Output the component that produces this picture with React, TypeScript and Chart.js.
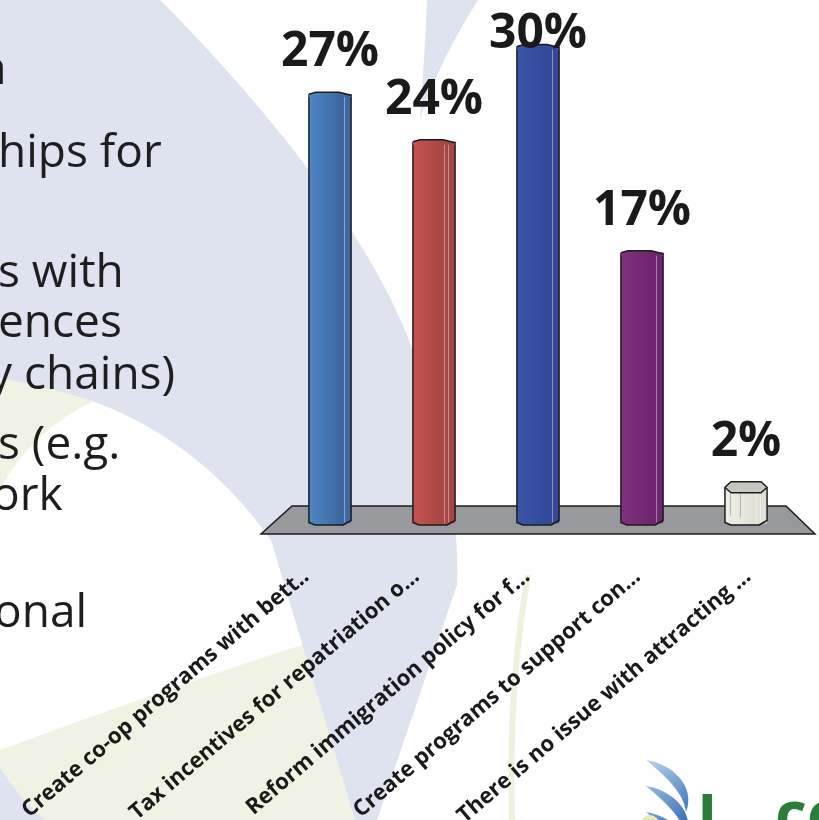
import { useEffect, useRef } from "react";
import { Chart, registerables } from "chart.js";

Chart.register(...registerables);

const categories = [
  "Create co-op programs with bett..",
  "Tax incentives for repatriation o...",
  "Reform immigration policy for f...",
  "Create programs to support con...",
  "There is no issue with attracting ...",
];
const values = [27, 24, 30, 17, 2];
const valueLabels = ["27%", "24%", "30%", "17%", "2%"];
const yMax = 33;
// label axis range: the labels sit along the front edge of the (perspective) floor
const labelAxisMin = -0.253;
const labelAxisMax = 4.453;

const barLight = ["#4f87c8", "#c5534f", "#3c56a8", "#82307f", "#f0f0e8"];
const barDark = ["#3d69a3", "#a64644", "#33489a", "#6d2570", "#e0e0d4"];
const capFill = ["#4a7fc0", "#c0504d", "#3a53a5", "#7b2b7c", "#c6c6be"];

const INK = "#1c1c1c";

const background = {
  id: "background",
  beforeDraw(chart: any) {
    const ctx = chart.ctx as CanvasRenderingContext2D;
    ctx.save();
    ctx.fillStyle = "#ffffff";
    ctx.fillRect(0, 0, chart.width, chart.height);

    // green-yellow swooshes
    ctx.fillStyle = "#f0f3e3";
    ctx.beginPath();
    ctx.moveTo(0, 750);
    ctx.quadraticCurveTo(190, 680, 318, 640);
    ctx.lineTo(340, 560);
    ctx.lineTo(360, 820);
    ctx.lineTo(0, 820);
    ctx.closePath();
    ctx.fill();
    ctx.beginPath();
    ctx.moveTo(0, 372);
    ctx.quadraticCurveTo(70, 380, 100, 398);
    ctx.quadraticCurveTo(30, 430, 0, 490);
    ctx.closePath();
    ctx.fill();
    ctx.strokeStyle = "#eef2dc";
    ctx.lineWidth = 6;
    ctx.beginPath();
    ctx.moveTo(528, 575);
    ctx.quadraticCurveTo(508, 690, 512, 820);
    ctx.stroke();

    // lavender swooshes
    ctx.fillStyle = "#dfe3f0";
    ctx.beginPath();
    ctx.moveTo(0, 0);
    ctx.lineTo(160, 0);
    ctx.bezierCurveTo(250, 90, 360, 220, 405, 330);
    ctx.bezierCurveTo(445, 430, 460, 520, 457, 585);
    ctx.lineTo(377, 820);
    ctx.lineTo(355, 820);
    ctx.lineTo(271, 540);
    ctx.quadraticCurveTo(200, 440, 90, 400);
    ctx.quadraticCurveTo(40, 385, 0, 378);
    ctx.closePath();
    ctx.fill();
    ctx.beginPath();
    ctx.moveTo(427, 0);
    ctx.lineTo(478, 0);
    ctx.quadraticCurveTo(440, 60, 420, 118);
    ctx.quadraticCurveTo(425, 50, 427, 0);
    ctx.closePath();
    ctx.fill();
    ctx.beginPath();
    ctx.moveTo(0, 768);
    ctx.quadraticCurveTo(20, 800, 45, 820);
    ctx.lineTo(0, 820);
    ctx.closePath();
    ctx.fill();

    // slide body text (cropped)
    ctx.fillStyle = "#1e1e1e";
    ctx.font = '46px "Open Sans"';
    ctx.textAlign = "left";
    ctx.textBaseline = "alphabetic";
    const lines: [string, number, number][] = [
      ["a", -19, 84],
      ["hips for", -2, 167],
      ["s with", -2, 287],
      ["ences", -2, 337],
      ["y chains)", -11, 389],
      ["s (e.g.", -2, 459],
      ["ork", -8, 510],
      ["onal", -6, 627],
    ];
    lines.forEach(([t, x, y]) => ctx.fillText(t, x, y));

    // logo (cropped)
    const g = ctx.createLinearGradient(640, 760, 700, 820);
    g.addColorStop(0, "#c2dbf2");
    g.addColorStop(1, "#2a66b0");
    ctx.fillStyle = g;
    [0, 26, 52].forEach((dy) => {
      ctx.beginPath();
      ctx.moveTo(646, 760 + dy);
      ctx.bezierCurveTo(672, 764 + dy, 696, 786 + dy, 686, 812 + dy);
      ctx.bezierCurveTo(684, 794 + dy, 668, 778 + dy, 646, 760 + dy);
      ctx.closePath();
      ctx.fill();
    });
    ctx.fillStyle = "#e8ecb0";
    ctx.beginPath();
    ctx.arc(650, 824, 9, 0, Math.PI * 2);
    ctx.fill();
    ctx.fillStyle = "#2b7d3a";
    ctx.font = 'bold 62px "Open Sans"';
    ctx.fillText("L", 697, 839);
    ctx.fillText("co", 775, 836);
    ctx.restore();
  },
};

const floor = {
  id: "floor",
  beforeDatasetsDraw(chart: any) {
    const ctx = chart.ctx as CanvasRenderingContext2D;
    const ca = chart.chartArea;
    const y0 = chart.scales.y.getPixelForValue(0);
    ctx.save();
    ctx.fillStyle = "#98999d";
    ctx.strokeStyle = INK;
    ctx.lineWidth = 1.5;
    ctx.beginPath();
    ctx.moveTo(ca.left + 14, y0 - 17.5);
    ctx.lineTo(ca.right - 12, y0 - 17.5);
    ctx.lineTo(ca.right + 17, y0 + 10.5);
    ctx.lineTo(ca.left - 17, y0 + 10.5);
    ctx.closePath();
    ctx.fill();
    ctx.stroke();
    ctx.restore();
  },
};

const barDecor = {
  id: "barDecor",
  afterDatasetsDraw(chart: any) {
    const ctx = chart.ctx as CanvasRenderingContext2D;
    const meta = chart.getDatasetMeta(0);
    meta.data.forEach((el: any, i: number) => {
      const { x, y, base, width } = el.getProps(["x", "y", "base", "width"], true);
      const l = x - width / 2;
      const r = x + width / 2;
      const capH = Math.max(4, Math.min(11, (y - 300) / 17));
      const big = capH > 6;
      ctx.save();
      const g = ctx.createLinearGradient(l, 0, r, 0);
      g.addColorStop(0, barLight[i]);
      g.addColorStop(0.72, barDark[i]);
      g.addColorStop(1, barDark[i]);
      ctx.fillStyle = g;
      ctx.beginPath();
      ctx.moveTo(l, y - capH / 2 + 1);
      ctx.lineTo(r, y - capH / 2 + 1);
      ctx.lineTo(r, base - 3);
      ctx.lineTo(r - 8, base + 1.5);
      ctx.lineTo(l + 6, base + 1.5);
      ctx.lineTo(l, base - 1);
      ctx.closePath();
      ctx.fill();
      ctx.lineWidth = 1;
      ctx.strokeStyle = "rgba(255,255,255,0.4)";
      ctx.beginPath();
      ctx.moveTo(r - 6.5, y);
      ctx.lineTo(r - 6.5, base - 1);
      if (i === 1 || i === 4) {
        ctx.moveTo(r - 10.5, y);
        ctx.lineTo(r - 10.5, base);
      }
      ctx.stroke();
      if (i === 4) {
        ctx.strokeStyle = "rgba(120,120,110,0.5)";
        ctx.beginPath();
        ctx.moveTo(l + 15.5, y + 2);
        ctx.lineTo(l + 15.5, base - 6);
        ctx.moveTo(l + 5.5, y + 2);
        ctx.lineTo(l + 5.5, base - 8);
        ctx.stroke();
      }
      ctx.strokeStyle = INK;
      ctx.lineWidth = 1.5;
      ctx.lineJoin = "round";
      ctx.beginPath();
      ctx.moveTo(l, y - capH / 2 + 1);
      ctx.lineTo(l, base - 1);
      ctx.lineTo(l + 6, base + 1.5);
      ctx.lineTo(r - 8, base + 1.5);
      ctx.lineTo(r, base - 3);
      ctx.lineTo(r, y - capH / 2 + 1);
      ctx.stroke();
      const top = y - capH + 1;
      const mid = y - capH / 2 + 1;
      const front = y + 1;
      ctx.beginPath();
      if (big) {
        ctx.moveTo(l, mid);
        ctx.lineTo(l + 6, top);
        ctx.lineTo(r - 6, top);
        ctx.lineTo(r, mid);
        ctx.lineTo(r - 6, front);
        ctx.lineTo(l + 6, front);
        ctx.closePath();
        ctx.fillStyle = capFill[i];
        ctx.fill();
        ctx.stroke();
      } else {
        ctx.moveTo(l, mid);
        ctx.lineTo(l + 7, top);
        ctx.lineTo(r - 12, top);
        ctx.lineTo(r - 4, mid);
        ctx.lineTo(r, mid + 1);
        ctx.lineTo(r, front + 1);
        ctx.lineTo(l, front + 1);
        ctx.closePath();
        ctx.fillStyle = g;
        ctx.fill();
        ctx.beginPath();
        ctx.moveTo(l, mid);
        ctx.lineTo(l + 7, top);
        ctx.lineTo(r - 12, top);
        ctx.lineTo(r - 4, mid);
        ctx.lineTo(r, mid + 1);
        ctx.stroke();
      }
      ctx.fillStyle = "#1a1a1a";
      ctx.font = 'bold 48px "Open Sans"';
      ctx.textAlign = "center";
      ctx.textBaseline = "alphabetic";
      const by = Math.max(y - capH - 25, 48);
      ctx.fillText(valueLabels[i], x, by);
      ctx.restore();
    });
  },
};

export default function App() {
  const ref = useRef<HTMLCanvasElement | null>(null);
  useEffect(() => {
    if (!ref.current) return;
    const chart = new Chart(ref.current, {
      type: "bar",
      data: {
        labels: categories,
        datasets: [
          {
            data: values,
            xAxisID: "x",
            yAxisID: "y",
            backgroundColor: barLight,
            borderWidth: 0,
            barPercentage: 0.81,
            categoryPercentage: 0.5,
          },
        ],
      },
      options: {
        animation: false,
        responsive: false,
        layout: { padding: { left: 278, right: 21, top: 0, bottom: 0 } },
        plugins: { legend: { display: false }, tooltip: { enabled: false } },
        scales: {
          x: { type: "category", display: false, offset: true },
          y: { display: false, min: 0, max: yMax },
          xl: {
            type: "linear",
            position: "bottom",
            min: labelAxisMin,
            max: labelAxisMax,
            bounds: "data",
            offset: false,
            grid: { display: false, drawTicks: false, offset: false },
            border: { display: false },
            ticks: {
              autoSkip: false,
              minRotation: 40.5,
              maxRotation: 40.5,
              padding: 40,
              color: "#1a1a1a",
              font: { family: "'Open Sans'", size: 22, weight: "bold" },
              callback: (v: any) =>
                Number.isInteger(v) && categories[v] ? categories[v] : "",
            },
            afterBuildTicks: (s: any) => {
              s.ticks = categories.map((_, i) => ({ value: i }));
            },
            afterFit: (s: any) => {
              s.height = 296.5;
              s.paddingLeft = 0;
              s.paddingRight = 0;
            },
          },
        },
      } as any,
      plugins: [background, floor, barDecor],
    });
    return () => chart.destroy();
  }, []);
  return (
    <div style={{ position: "fixed", left: 0, top: 0, width: 819, height: 820 }}>
      <canvas ref={ref} width={819} height={820} style={{ display: "block" }} />
    </div>
  );
}
